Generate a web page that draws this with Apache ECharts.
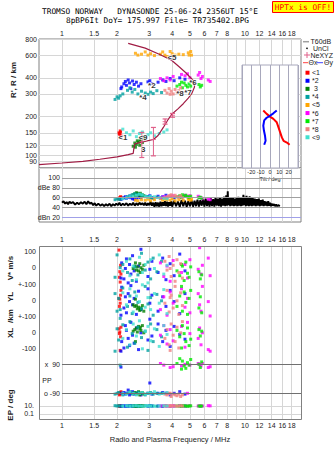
<!DOCTYPE html>
<html><head><meta charset="utf-8">
<script src="https://cdn.jsdelivr.net/npm/echarts@6/dist/echarts.min.js"></script>
<style>html,body{margin:0;padding:0;background:#fff}#c{width:335px;height:451px}</style>
</head><body><div id="c"></div><script>
// ---------- DATA ----------
const freqTicks = [1,1.5,2,3,4,5,6,7,8,9,10,12,14,16,18];
const freqLabelsTop = [1,1.5,2,3,4,5,6,7,8,10,12,14,16,18];
const freqLabelsMid = [1,1.5,2,3,4,5,6,7,8,9,10,12,14,16,18];
const heightTicks = [80,90,100,120,150,200,300,400,600,800];
const classNames = ['<1','*2',' 3','*4','<5','*6','*7','*8','<9'];
const classColors = ['#ff0000','#0000ff','#008000','#00a0a0','#ffa500','#ff00ff','#00e800','#f08080','#40e0d0'];
// echo: [freq MHz, R km, amplitude dB, V* m/s, YL km, XL km, PP deg, EP deg]
const echoes1 = [
 [2.05,150,58,110,10,20,-90,12],[2.07,145,60,-25,5,0,-85,10],[2.08,155,57,-90,-20,-115,-95,8],
 [2.10,142,61,-40,60,30,-80,11],[2.06,148,59,-60,-40,-10,-100,9],[2.09,152,62,15,30,-30,-90,10]
];
const echoes2 = [
 [2.12,340,58,30,80,-60,-90,10],[2.18,360,60,-70,-50,-100,-85,12],[2.22,375,62,-5,20,40,-95,8],
 [2.25,350,59,55,-80,10,-90,11],[2.30,385,61,-95,40,-40,-70,9],[2.34,365,63,20,-10,-85,-100,10],
 [2.38,330,60,-40,90,60,-90,12],[2.43,378,58,75,-30,-20,-80,8],[2.48,355,57,-20,10,-70,-95,10],
 [2.55,370,59,-85,-90,25,-90,9],[2.62,345,61,10,55,-110,-85,11],[2.70,360,60,115,-60,-5,-100,10],
 [2.95,372,62,-55,70,-50,-90,9],[3.02,380,64,-10,-20,80,-26,12],[3.10,360,60,40,30,-25,-95,10],
 [3.35,370,63,-30,-70,50,-90,10],[3.55,385,62,60,20,-60,-85,8],[3.70,375,65,-75,-40,10,-90,11],
 [3.90,395,63,25,60,-90,-100,9],[4.10,380,60,-50,-10,35,-90,10],[4.40,400,62,85,-85,-15,-80,12],
 [4.70,390,64,-20,40,-45,-95,10],[2.10,330,57,-65,-95,-120,73,9]
];
const echoes3 = [
 [2.45,118,66,-5,-30,5,-90,10],[2.50,125,68,10,-40,15,-85,9],[2.55,122,70,-15,-35,25,-95,11],
 [2.58,130,69,5,-55,0,-90,10],[2.62,127,67,-20,-45,35,-80,12],[2.66,120,65,25,-65,20,-100,9],
 [2.70,133,64,0,-50,10,-90,10],[2.75,126,66,-10,-35,40,-85,11],[2.80,135,64,15,-70,-5,-95,10],
 [2.52,116,63,30,5,-60,-90,9],[2.68,129,69,-30,-60,30,-90,10]
];
const echoes4 = [
 [1.95,272,56,-60,40,-120,-95,12],[2.00,285,58,80,-70,20,-90,10],[2.04,278,57,-110,10,-50,-85,11],
 [2.15,300,59,20,75,45,-100,9],[2.28,320,62,-30,-40,-95,-90,10],[2.35,335,64,55,25,65,-80,12],
 [2.42,310,66,-80,-85,-10,-95,10],[2.50,325,68,5,50,-70,-90,11],[2.60,300,67,-45,-15,30,-85,9],
 [2.72,315,65,90,-55,-35,-90,10],[2.85,305,63,-15,85,5,-100,12],[2.95,298,62,35,-25,-115,-90,10],
 [3.05,310,60,-70,15,50,-85,11],[3.15,302,59,60,-95,-60,-95,10],[3.30,318,61,-25,35,15,-90,9],
 [3.50,308,60,40,-5,-30,-90,10],[2.08,290,57,0,-60,85,85,10]
];
const echoes5 = [
 [2.52,620,55],[2.60,600,54],[2.72,610,56],[2.85,635,55],[2.95,600,57],[3.05,615,54],[3.20,595,56],
 [3.45,610,58],[3.55,635,55],[3.65,600,57],[3.75,585,56],[3.90,640,55],[4.00,615,58],[4.15,600,54],
 [4.35,610,56],[4.60,605,55],[4.90,625,57],[4.95,600,56],[5.05,640,55],[5.10,600,57]
];
const echoes6 = [
 [3.45,395,60,30,-60,-20,95,10],[3.60,380,62,-55,20,40,85,12],[3.75,400,61,10,-95,-75,-90,9],
 [3.90,385,63,-85,50,15,70,10],[4.05,410,64,45,-20,-55,75,11],[4.50,425,62,-30,70,35,80,10],
 [4.70,415,65,20,-45,-95,90,9],[4.85,430,63,-65,10,60,-90,10],[5.00,400,64,50,-80,-10,85,12],
 [5.55,420,63,-10,40,-40,95,10],[5.65,440,61,125,-30,25,90,11],[5.75,395,60,-40,-70,-80,80,9],
 [5.85,410,58,15,85,-5,95,10],[6.30,385,57,60,-10,-110,70,12],[6.45,375,56,-50,-100,-120,75,11]
];
const echoes7 = [
 [4.25,345,62,-20,-40,10,95,10],[4.40,355,64,-50,25,-30,125,9],[4.55,335,66,10,-70,40,110,10],
 [4.65,365,63,-80,50,-10,80,11],[4.75,350,65,35,-15,-60,65,10],[4.85,340,62,-35,-90,25,100,9],
 [4.95,360,61,-60,10,-85,85,10],[5.05,345,63,5,60,-45,120,11],[5.60,355,60,-25,-50,15,90,10],
 [5.70,340,61,-70,20,-25,70,9],[5.80,350,59,-45,-80,5,105,10],[4.50,370,60,20,85,-100,60,10]
];
const echoes8 = [
 [3.65,320,60,40,-20,-40,-95,10],[3.75,305,62,-15,60,15,-100,12],[3.85,330,64,70,-75,-80,-90,9],
 [3.95,315,66,-55,30,50,-110,10],[4.05,300,63,15,-50,-20,-95,11],[4.15,325,65,-85,85,-60,-100,10],
 [4.25,310,62,50,-5,30,-105,9],[4.35,318,61,-30,-90,-100,-95,10],[4.45,335,64,25,45,-5,-110,12],
 [4.55,308,60,-65,-35,65,-100,10],[3.90,298,63,-5,15,-115,-90,11]
];
const echoes9 = [
 [2.15,160,58,-20,45,-40,-90,10],[2.25,150,60,40,-30,15,-95,11],[2.35,145,62,-50,70,-80,-85,9],
 [2.45,155,63,10,-75,50,-90,10],[2.55,140,65,-75,25,-25,-100,12],[2.65,148,67,65,-10,70,-90,10],
 [2.75,152,66,-30,95,-105,-85,9],[2.85,138,62,20,-45,5,-95,10],[2.95,145,61,-95,15,35,-90,11],
 [3.05,150,63,50,-60,-55,-90,10],[3.20,142,62,-5,40,20,-80,9],[3.40,148,60,80,-20,-90,-95,10],
 [3.60,152,59,-40,65,40,-90,11],[3.75,158,58,15,-85,-15,-85,10]
];
const allEchoes = [echoes1,echoes2,echoes3,echoes4,echoes5,echoes6,echoes7,echoes8,echoes9];
const classMarkers = [[2.15,137],[3.10,350],[2.74,112],[2.77,281],[3.99,578],[5.2,369],[4.88,308],[4.41,302],[2.77,137]];
const profileF = [0.749,1.0,1.3,1.61,2.0,2.3,2.45,2.47,2.5,2.8,3.16,3.35,3.58,3.8,3.97,4.3,4.6,4.9,5.11,5.3,5.28,5.2,5.0,4.7,4.35,3.97,3.4,2.85,2.3];
const profileH = [85,87.5,90,93.5,97.5,101.5,104,113,123,128,133,143,165,190,208,230,252,278,301,339,365,383,406,444,490,548,610,680,740];
const nexyzF = [2.73,3.16,3.66,4.02];
const nexyzLow = [96.5,99.4,175,198];
const nexyzHigh = [151,165,192,212];
const nexyzMid = [128,133,183,205];
const thetaX = [[-7.2,223],[-3.6,210],[0,200],[3.6,192],[7.2,181],[9.1,165],[10.9,151],[12.7,138],[14.5,130],[18.1,126],[21,121]];
const thetaY = [[7.2,223],[3.6,212],[0,203],[-3.6,196],[-6.2,187],[-7.2,170],[-6.5,156],[-5.4,143],[-4.7,130],[-6.2,121]];
const noise = [
[1.00,50],[1.02,53],[1.04,48],[1.06,51],[1.08,47],[1.10,52],[1.12,49],[1.15,51],[1.18,46],[1.21,50],[1.24,47],[1.27,51],
[1.30,48],[1.33,52],[1.36,47],[1.39,53],[1.42,48],[1.45,50],[1.48,45],[1.51,49],[1.54,44],[1.58,48],[1.62,44],[1.66,47],
[1.70,43],[1.74,47],[1.78,44],[1.82,48],[1.86,43],[1.90,47],[1.94,44],[1.98,48],[2.02,45],[2.06,50],[2.10,44],[2.15,48],
[2.20,45],[2.25,49],[2.30,44],[2.35,48],[2.40,45],[2.45,50],[2.50,44],[2.55,49],[2.60,45],[2.65,50],[2.70,46],[2.75,49],
[2.80,45],[2.85,50],[2.90,44],[2.95,49],[3.00,45],[3.05,52],[3.10,44],[3.15,50],[3.20,42],[3.25,51],[3.30,43],[3.35,50],
[3.40,42],[3.45,52],[3.50,43],[3.55,51],[3.60,44],[3.65,53],[3.70,43],[3.75,52],[3.80,42],[3.85,51],[3.90,44],[3.95,53],
[4.00,42],[4.1,54],[4.2,43],[4.3,52],[4.4,42],[4.5,55],[4.6,43],[4.7,54],[4.8,42],[4.9,53],[5.0,43],[5.1,55],[5.2,42],
[5.3,54],[5.4,43],[5.5,56],[5.6,42],[5.7,55],[5.8,44],[5.9,57],[6.0,42],[6.1,58],[6.2,43],[6.3,56],[6.4,42],[6.5,59],
[6.6,43],[6.7,57],[6.8,42],[6.9,60],[7.0,44],[7.1,58],[7.2,43],[7.3,61],[7.4,42],[7.5,58],[7.6,44],[7.7,62],[7.8,43],
[7.9,65],[8.0,44],[8.05,73],[8.1,45],[8.2,60],[8.3,43],[8.4,59],[8.5,44],[8.6,61],[8.7,43],[8.8,58],[8.9,44],[9.0,60],
[9.1,43],[9.2,62],[9.3,44],[9.4,59],[9.5,43],[9.6,61],[9.7,44],[9.8,66],[9.9,45],[10.0,62],[10.1,43],[10.2,64],[10.3,44],
[10.4,61],[10.5,43],[10.6,63],[10.7,44],[10.8,60],[10.9,43],[11.0,61],[11.15,44],[11.3,58],[11.45,43],[11.6,57],[11.75,44],
[11.9,58],[12.05,43],[12.2,55],[12.35,44],[12.5,56],[12.65,43],[12.8,53],[12.95,44],[13.1,52],[13.25,43],[13.4,53],[13.55,44],
[13.7,50],[13.85,43],[14.0,48],[14.2,44],[14.4,47],[14.6,43],[14.8,46],[15.0,43],[15.2,45],[15.5,43]
];

// ---------- CHART ----------
const FMIN = 0.749, FMAX = 20.23;
const FONT = 'Liberation Sans, Arial, sans-serif';
const lab = {fontFamily: FONT, fontSize: 7, color: '#222'};
const gridLine = {show: true, lineStyle: {color: '#d6d6d6', width: 1}};

const grids = [
  {left: 39, top: 39, width: 262, height: 129, show: true, borderColor: '#808080', borderWidth: 1}, // 0 R'
  {left: 39, top: 168, width: 262, height: 54, show: true, borderColor: '#808080', borderWidth: 1}, // 1 dB
  {left: 39, top: 246, width: 262, height: 38}, // 2 V*
  {left: 39, top: 284, width: 262, height: 32}, // 3 YL
  {left: 39, top: 316, width: 262, height: 36}, // 4 XL
  {left: 39, top: 352, width: 262, height: 48}, // 5 PP
  {left: 39, top: 400, width: 262, height: 19}, // 6 EP
  {left: 242, top: 65, width: 56, height: 103, show: true, backgroundColor: '#fff', borderColor: '#a8a8bc', borderWidth: 1, z: 3} // 7 tilt
];

const fmtF = v => String(+v.toFixed(2));
function fAxis(gi, labels, pos, margin, extra) {
  return Object.assign({
    type: 'log', logBase: 10, gridIndex: gi, min: FMIN, max: FMAX, position: pos || 'bottom',
    axisLine: {show: false},
    axisTick: {show: false, customValues: freqTicks},
    axisLabel: labels ? Object.assign({show: true, customValues: labels, margin: margin, formatter: fmtF}, lab) : {show: false},
    splitLine: gridLine, minorSplitLine: {show: false}
  }, extra || {});
}
const xAxes = [
  fAxis(0, freqLabelsTop, 'top', 2),
  fAxis(1, null),
  fAxis(2, freqLabelsMid, 'top', 3),
  fAxis(3, null), fAxis(4, null), fAxis(5, null),
  fAxis(6, freqLabelsTop, 'bottom', 3, {
    name: 'Radio and Plasma Frequency / MHz', nameLocation: 'middle', nameGap: 16,
    nameTextStyle: {fontFamily: FONT, fontSize: 7.5, color: '#222'}
  }),
  {type: 'value', gridIndex: 7, min: -30, max: 30, interval: 10, z: 4,
   axisLine: {show: false}, axisTick: {show: false},
   axisLabel: {showMinLabel: false, showMaxLabel: false, margin: 1, fontFamily: FONT, fontSize: 5.5, color: '#222'},
   splitLine: {show: true, lineStyle: {color: '#a8a8bc'}},
   name: 'Tilt / deg', nameLocation: 'middle', nameGap: 8, nameTextStyle: {fontFamily: FONT, fontSize: 5.5, color: '#222'}}
];
function vAxis(gi, min, max, labels, fmt) {
  return {
    type: 'value', gridIndex: gi, min, max,
    axisLine: {show: false}, axisTick: {show: false},
    axisLabel: labels ? Object.assign({show: true, customValues: labels, margin: 3, formatter: fmt || (v => String(v))}, lab) : {show: false},
    splitLine: {show: false}
  };
}
const yAxes = [
  {type: 'log', logBase: 10, gridIndex: 0, min: 80, max: 800,
   axisLine: {show: false}, axisTick: {show: false, customValues: heightTicks},
   axisLabel: Object.assign({show: true, customValues: heightTicks, margin: 2}, lab),
   splitLine: gridLine, minorSplitLine: {show: false}},
  vAxis(1, 11, 120, null),
  vAxis(2, -102, 135.6, [100, 0]),
  vAxis(3, -100, 100, [100, 0], v => (v === 100 ? '+-100' : String(v))),
  vAxis(4, -125, 100, [100, 0, -100], v => (v === 100 ? '+-100' : String(v))),
  vAxis(5, -131.6, 166.4, null),
  {type: 'log', logBase: 10, gridIndex: 6, min: 0.0056, max: 316,
   axisLine: {show: false}, axisTick: {show: false, customValues: [0.1, 10]},
   axisLabel: Object.assign({show: true, customValues: [0.1, 10], margin: 5, formatter: v => (v >= 10 ? '10.' : '0.1')}, lab),
   splitLine: gridLine, minorSplitLine: {show: false}},
  {type: 'log', logBase: 10, gridIndex: 7, min: 80, max: 502, show: false, splitLine: {show: false}}
];

const series = [];
const mlLabel = {show: true, position: 'start', distance: 2, formatter: '{b}', fontFamily: FONT, fontSize: 7, color: '#222'};
series.push({
  type: 'line', xAxisIndex: 1, yAxisIndex: 1, data: noise, showSymbol: false, z: 2,
  lineStyle: {color: '#000', width: 1.9}, silent: true,
  markLine: {symbol: 'none', silent: true, label: mlLabel, lineStyle: {color: '#a0a0a0', type: 'solid', width: 1},
    data: [
      [{name: '100', coord: [1, 100]}, {coord: [FMAX, 100]}],
      [{name: 'dBe 80', coord: [1, 80]}, {coord: [FMAX, 80]}],
      [{name: '60', coord: [1, 60]}, {coord: [FMAX, 60]}],
      [{name: '40', coord: [1, 40]}, {coord: [FMAX, 40]}],
      [{name: 'dBn 20', coord: [1, 20], lineStyle: {color: '#a0a0e8'}}, {coord: [FMAX, 20]}]
    ]}
});
series.push({
  type: 'scatter', xAxisIndex: 5, yAxisIndex: 5, data: [], silent: true,
  markLine: {symbol: 'none', silent: true, label: mlLabel, lineStyle: {color: '#707070', type: 'solid', width: 1},
    data: [
      [{name: 'x  90', coord: [1, 90]}, {coord: [FMAX, 90]}],
      [{name: 'o -90', coord: [1, -90]}, {coord: [FMAX, -90]}]
    ]}
});
series.push({type: 'line', xAxisIndex: 0, yAxisIndex: 0, data: profileF.map((f, i) => [f, profileH[i]]),
  showSymbol: false, lineStyle: {color: '#a01c44', width: 1.2}, z: 4, silent: true});
nexyzF.forEach((f, i) => {
  series.push({type: 'line', xAxisIndex: 0, yAxisIndex: 0, data: [[f, nexyzLow[i]], [f, nexyzHigh[i]]],
    showSymbol: true, symbol: 'rect', symbolSize: [5, 1.2], itemStyle: {color: '#e0608a'},
    lineStyle: {color: '#e0608a', width: 1}, z: 4, silent: true});
});
series.push({type: 'scatter', xAxisIndex: 0, yAxisIndex: 0, data: nexyzF.map((f, i) => [f, nexyzMid[i]]),
  symbol: 'path://M0,2L4,2M2,0L2,4', symbolSize: 5, itemStyle: {color: 'none', borderColor: '#e0608a', borderWidth: 1}, z: 4, silent: true});

const bands = [[0, 1], [1, 2], [2, 3], [3, 4], [4, 5], [5, 6], [6, 7]]; // [axisIndex, echo field]
allEchoes.forEach((arr, c) => {
  bands.forEach(([ax, fi]) => {
    const d = arr.filter(e => e[fi] !== undefined && e[fi] !== null).map(e => [e[0], e[fi]]);
    if (!d.length) return;
    series.push({type: 'scatter', xAxisIndex: ax, yAxisIndex: ax, data: d, symbol: 'rect', symbolSize: 3,
      itemStyle: {color: classColors[c]}, z: 3, silent: true});
  });
});
series.push({type: 'scatter', xAxisIndex: 0, yAxisIndex: 0, symbolSize: 0, z: 6, silent: true,
  data: classMarkers.map((p, i) => ({value: p, name: classNames[i]})),
  label: {show: true, position: 'inside', formatter: '{b}', fontFamily: FONT, fontSize: 8, fontWeight: 'bold',
    color: '#000', textBorderColor: '#fff', textBorderWidth: 1.5}});
series.push({type: 'line', xAxisIndex: 7, yAxisIndex: 7, data: thetaX, showSymbol: false, z: 6,
  lineStyle: {color: '#ff0000', width: 2}, silent: true});
series.push({type: 'line', xAxisIndex: 7, yAxisIndex: 7, data: thetaY, showSymbol: false, z: 6,
  lineStyle: {color: '#0000ff', width: 2}, silent: true});

// ---------- GRAPHIC ----------
const mono = 'DejaVu Sans Mono, Liberation Mono, monospace';
const g = [];
g.push({type: 'text', x: 150, y: 11.3, style: {text: 'TROMSO NORWAY   DYNASONDE 25-06-24 2356UT 15°E', font: '7.8px ' + mono, fill: '#000', align: 'center', verticalAlign: 'middle'}});
g.push({type: 'text', x: 157.5, y: 20.4, style: {text: '8pBP6It DoY= 175.997 File= TR735402.BPG', font: '7.8px ' + mono, fill: '#000', align: 'center', verticalAlign: 'middle'}});
g.push({type: 'rect', shape: {x: 272.5, y: 1.5, width: 61, height: 11}, style: {fill: '#ffff00', stroke: '#ff0000', lineWidth: 1}});
g.push({type: 'text', x: 303, y: 7.5, style: {text: 'HPTx is OFF!', font: '7.8px ' + mono, fill: '#ff0000', align: 'center', verticalAlign: 'middle'}});
g.push({type: 'rect', shape: {x: 39.5, y: 246.5, width: 262, height: 173}, style: {fill: 'none', stroke: '#808080', lineWidth: 1}, z: 10});
const at = (t, x, y, rot) => g.push({type: 'text', x, y, rotation: rot ? Math.PI / 2 : 0,
  style: {text: t, font: 'bold 8px ' + FONT, fill: '#222', align: 'center', verticalAlign: 'middle'}});
at("R', R / km", 13, 80, true);
at('V* m/s', 10, 268, true);
at('YL', 10, 297, true);
at('/km', 10, 316, true);
at('XL', 10, 333, true);
at('EP / deg', 10, 405, true);
g.push({type: 'text', x: 47, y: 380, style: {text: 'PP', font: '7px ' + FONT, fill: '#222', align: 'center', verticalAlign: 'middle'}});
const lt = (t, x, y) => g.push({type: 'text', x, y, style: {text: t, font: '7px ' + FONT, fill: '#222', verticalAlign: 'middle'}});
g.push({type: 'line', shape: {x1: 303, y1: 41.7, x2: 309, y2: 41.7}, style: {stroke: '#a0a0a0', lineWidth: 1.5}});
lt('T60dB', 310.5, 41.7);
g.push({type: 'circle', shape: {cx: 307, cy: 48.3, r: 0.8}, style: {fill: '#000'}});
lt('UnCl', 313, 48.3);
g.push({type: 'line', shape: {x1: 304, y1: 55, x2: 310, y2: 55}, style: {stroke: '#e0608a', lineWidth: 1}});
g.push({type: 'line', shape: {x1: 307, y1: 52, x2: 307, y2: 58}, style: {stroke: '#e0608a', lineWidth: 1}});
lt('NeXYZ', 310.5, 55);
g.push({type: 'line', shape: {x1: 303, y1: 62.7, x2: 308, y2: 62.7}, style: {stroke: '#ff4040', lineWidth: 1}});
lt('Θx', 308.5, 62.7);
g.push({type: 'line', shape: {x1: 317, y1: 62.7, x2: 323, y2: 62.7}, style: {stroke: '#4040ff', lineWidth: 1}});
lt('Θy', 324, 62.7);
classNames.forEach((n, i) => {
  const y = 72.7 + 8.07 * i;
  g.push({type: 'rect', shape: {x: 305.5, y: y - 2, width: 4, height: 4}, style: {fill: classColors[i]}});
  lt(n, 312, y);
});

const chart = echarts.init(document.getElementById('c'), null, {renderer: 'svg'});
chart.setOption({
  animation: false, backgroundColor: '#fff',
  grid: grids, xAxis: xAxes, yAxis: yAxes, series, graphic: {elements: g}
});
</script></body></html>
